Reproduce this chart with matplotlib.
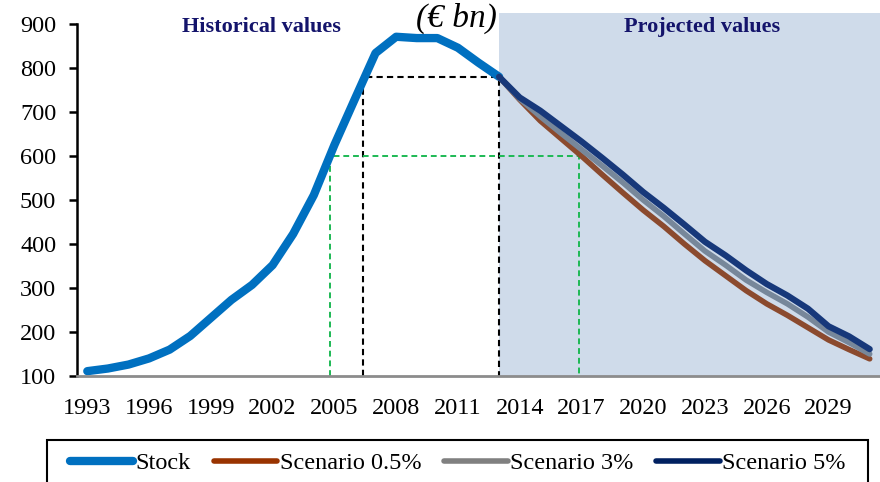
import matplotlib
matplotlib.use("Agg")
import matplotlib.pyplot as plt
from matplotlib.patches import Rectangle
from matplotlib.lines import Line2D

hist_years = list(range(1993, 2014))
stock = [111, 117, 126, 140, 160, 191, 232, 273, 307, 352, 423, 511, 625, 730, 834,
         871, 868, 868, 846, 812, 780]

proj_years = list(range(2013, 2032))
scen_05 = [780, 728, 680, 640, 600, 558, 517, 477, 440, 400, 362, 328, 294, 264, 238, 210, 182, 160, 139]
scen_3 = [780, 730, 690, 652, 615, 578, 540, 500, 463, 423, 384, 352, 318, 290, 264, 234, 200, 176, 150]
scen_5 = [780, 733, 703, 668, 633, 596, 558, 518, 482, 444, 405, 374, 340, 309, 283, 253, 213, 190, 161]

xtick_years = list(range(1993, 2030, 3))
ytick_vals = [100, 200, 300, 400, 500, 600, 700, 800, 900]

black_box = (2006.4, 2013, 780)
green_box = (2004.8, 2016.9, 600)

serif = ["Liberation Serif", "DejaVu Serif"]
plt.rcParams['font.family'] = serif

fig = plt.figure(figsize=(8.8, 4.82), dpi=100)
ax = fig.add_axes([77/880, 1-376/482, 803/880, 363/482])

ax.set_xlim(1992.5, 2031.5)
ax.set_ylim(100, 925)

ax.axvspan(2013, 2031.5, color='#CFDBEA', zorder=0, lw=0)

# dashed guide boxes
x0, x1, yv = black_box
ax.plot([x0, x0, x1, x1], [100, yv, yv, 100], color='black', ls=(0, (3, 2)), lw=1.5, zorder=2)
x0, x1, yv = green_box
ax.plot([x0, x0, x1, x1], [100, yv, yv, 100], color='#1DB954', ls=(0, (3, 2)), lw=1.4, zorder=2)

ax.plot(hist_years, stock, color='#0070C0', lw=6, solid_capstyle='round', zorder=3)
ax.plot(proj_years, scen_05, color='#8B4A2E', lw=4, solid_capstyle='round', zorder=4)
ax.plot(proj_years, scen_3, color='#77879A', lw=4, solid_capstyle='round', zorder=5)
ax.plot(proj_years, scen_5, color='#17387A', lw=4.5, solid_capstyle='round', zorder=6)

for s in ['top', 'right']:
    ax.spines[s].set_visible(False)
ax.spines['left'].set_bounds(100, 900)
ax.spines['left'].set_linewidth(1.8)
ax.spines['bottom'].set_color('#8C8C8C')
ax.spines['bottom'].set_linewidth(2)
ax.spines['bottom'].set_zorder(7)

ax.set_yticks(ytick_vals)
ax.set_yticklabels([str(v) for v in ytick_vals])
ax.set_xticks(xtick_years)
ax.set_xticklabels([str(v) for v in xtick_years])
ax.tick_params(axis='y', length=6, width=1.8, pad=9, labelsize=17.5)
ax.tick_params(axis='x', length=0, pad=16, labelsize=17.5)

ax.text(2001.45, 893, 'Historical values', ha='center', va='center', fontsize=16,
        fontweight='bold', color='#14146B')
ax.text(2022.85, 893, 'Projected values', ha='center', va='center', fontsize=16,
        fontweight='bold', color='#14146B')
fig.text(456/880, 1-18/482, '(€ bn)', ha='center', va='center', fontsize=24, style='italic')

# legend frame
fig.patches.append(Rectangle((47/880, -0.05), 821/880, 0.05 + 1-440/482,
                             transform=fig.transFigure, fill=False, edgecolor='black', lw=1.5))

handles = [Line2D([], [], color='#0070C0', lw=6, solid_capstyle='round'),
           Line2D([], [], color='#993300', lw=4, solid_capstyle='round'),
           Line2D([], [], color='#808080', lw=4, solid_capstyle='round'),
           Line2D([], [], color='#002060', lw=4, solid_capstyle='round')]
labels = ['Stock', 'Scenario 0.5%', 'Scenario 3%', 'Scenario 5%']
fig.legend(handles, labels, loc='center left', bbox_to_anchor=(70/880, 1-463/482),
           bbox_transform=fig.transFigure, ncol=4, frameon=False,
           fontsize=17.5, handlelength=2.6, handletextpad=0.1, columnspacing=0.95,
           borderaxespad=0, borderpad=0)

fig.savefig('out.png', dpi=100)
